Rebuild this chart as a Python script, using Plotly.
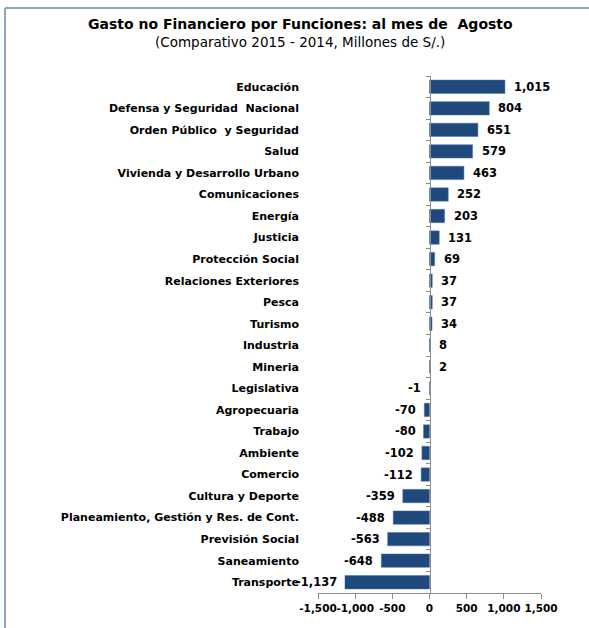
import plotly.graph_objects as go

categories = [
    "Educación", "Defensa y Seguridad  Nacional", "Orden Público  y Seguridad", "Salud",
    "Vivienda y Desarrollo Urbano", "Comunicaciones", "Energía", "Justicia",
    "Protección Social", "Relaciones Exteriores", "Pesca", "Turismo", "Industria",
    "Mineria", "Legislativa", "Agropecuaria", "Trabajo", "Ambiente", "Comercio",
    "Cultura y Deporte", "Planeamiento, Gestión y Res. de Cont.", "Previsión Social",
    "Saneamiento", "Transporte",
]
values = [1015, 804, 651, 579, 463, 252, 203, 131, 69, 37, 37, 34, 8, 2,
          -1, -70, -80, -102, -112, -359, -488, -563, -648, -1137]
value_labels = ["1,015", "804", "651", "579", "463", "252", "203", "131", "69", "37",
                "37", "34", "8", "2", "-1", "-70", "-80", "-102", "-112", "-359",
                "-488", "-563", "-648", "-1,137"]
x_ticks = [-1500, -1000, -500, 0, 500, 1000, 1500]
x_tick_labels = ["-1,500", "-1,000", "-500", "0", "500", "1,000", "1,500"]

W, H = 589, 628
L, R, T, B = 318, 48, 76, 35
pw, ph = W - L - R, H - T - B

def px(x):
    return (x - L) / pw

def py(y):
    return (H - B - y) / ph

n = len(categories)
bar_color = "#1F497D"
label_font = dict(family="DejaVu Sans", size=11, color="#000000")
val_font = dict(family="DejaVu Sans", size=11.5, color="#000000")
tick_font = dict(family="DejaVu Sans", size=10.5, color="#000000")

def nbsp(s):
    return s.replace("  ", "\u00a0 ")

fig = go.Figure()
fig.add_trace(go.Bar(
    y=categories, x=values, orientation="h",
    marker=dict(color=bar_color, line=dict(color="#4A6FA0", width=0.5)),
    hoverinfo="skip",
))
fig.add_trace(go.Scatter(
    y=categories, x=[0] * n, yaxis="y2", mode="markers",
    marker=dict(opacity=0), hoverinfo="skip", showlegend=False,
))

for c, v, t in zip(categories, values, value_labels):
    fig.add_annotation(
        x=v, y=c, xref="x", yref="y", showarrow=False,
        text="<b>%s</b>" % t, font=val_font,
        xanchor="left" if v > 0 else "right", xshift=7 if v > 0 else -6,
        yanchor="middle",
    )

fig.update_layout(
    width=W, height=H,
    margin=dict(l=L, r=R, t=T, b=B, autoexpand=False),
    paper_bgcolor="white", plot_bgcolor="white",
    showlegend=False, bargap=0.38,
    xaxis=dict(
        range=[-1500, 1500], tickvals=x_ticks, ticktext=["<b>%s</b>" % t for t in x_tick_labels],
        tickfont=tick_font, tickangle=0, showgrid=False, zeroline=False,
        showline=True, linecolor="#8C8C8C", linewidth=1, automargin=False,
        ticks="outside", ticklen=5, tickcolor="#8C8C8C",
    ),
    yaxis=dict(
        type="category", categoryorder="array", categoryarray=categories,
        range=[n - 0.5, -0.5], showgrid=False, zeroline=False, showline=False,
        ticks="", tickfont=label_font, ticklabelstandoff=18, automargin=False,
        tickvals=categories, ticktext=["<b>%s</b>" % nbsp(c) for c in categories],
    ),
    yaxis2=dict(
        type="category", categoryorder="array", categoryarray=categories,
        range=[n - 0.5, -0.5], overlaying="y", anchor="free", position=0.5,
        side="left", showgrid=False, zeroline=False, showline=True,
        linecolor="#8C8C8C", linewidth=1, ticks="outside", ticklen=4,
        tickcolor="#8C8C8C", tickson="boundaries", showticklabels=False,
    ),
)

fig.add_annotation(
    x=px(300), y=py(24), xref="paper", yref="paper", showarrow=False,
    text="<b>Gasto no Financiero por Funciones: al mes de \u00a0Agosto</b>",
    font=dict(family="DejaVu Sans", size=14, color="#000000"), xanchor="center", yanchor="middle",
)
fig.add_annotation(
    x=px(300), y=py(42), xref="paper", yref="paper", showarrow=False,
    text="(Comparativo 2015 - 2014, Millones de S/.)",
    font=dict(family="DejaVu Sans", size=13.5, color="#000000"), xanchor="center", yanchor="middle",
)

border = "#8EA4C4"
fig.add_shape(type="line", xref="paper", yref="paper", x0=px(5), x1=px(589), y0=py(8), y1=py(8),
              line=dict(color=border, width=2))
fig.add_shape(type="line", xref="paper", yref="paper", x0=px(5), x1=px(5), y0=py(8), y1=py(628),
              line=dict(color=border, width=2))

fig.write_html("out.html", config={"displayModeBar": False},
               post_script="document.body.style.margin='0';")
